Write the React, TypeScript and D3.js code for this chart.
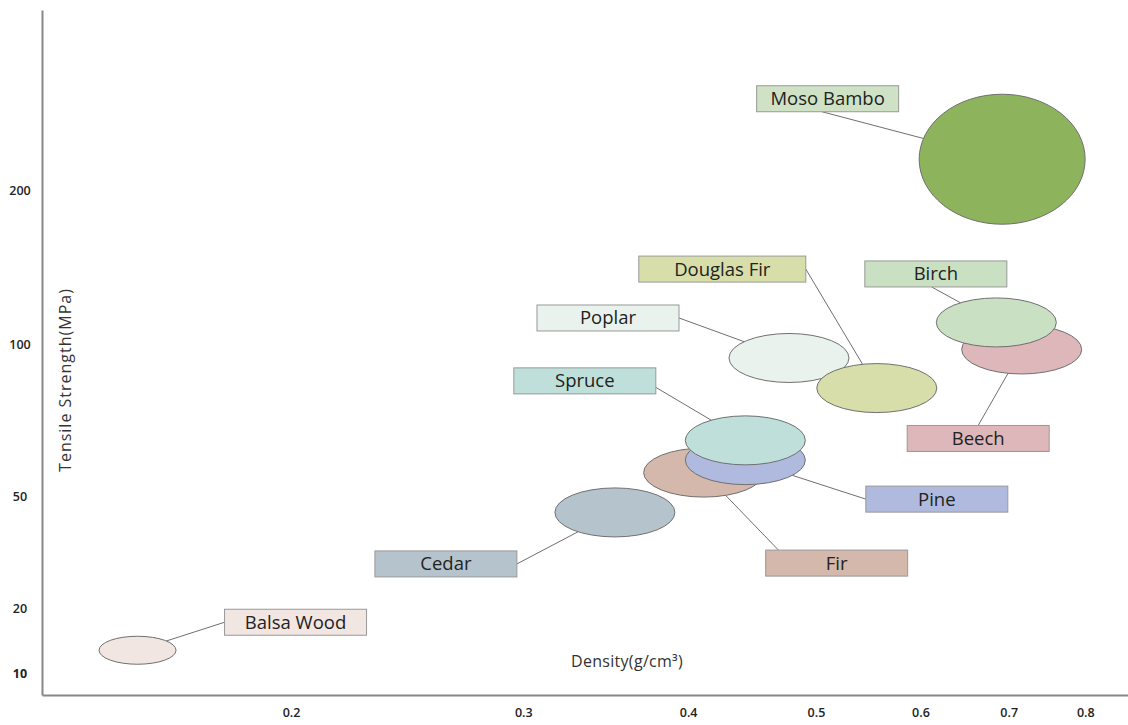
import React, { useRef, useEffect } from 'react';
import * as d3 from 'd3';

const WIDTH = 1128;
const HEIGHT = 725;

// wood species, density (g/cm3), tensile strength (MPa), relative bubble size
const woods = ['Balsa Wood', 'Cedar', 'Fir', 'Pine', 'Spruce', 'Poplar', 'Douglas Fir', 'Beech', 'Birch', 'Moso Bambo'];
const density = [0.153, 0.352, 0.411, 0.442, 0.442, 0.477, 0.556, 0.716, 0.685, 0.692];
const strength = [13.5, 45.6, 57.7, 61.8, 68.3, 95.4, 85.5, 98.2, 114, 220];
const bubbleSize = [1, 3, 3, 3, 3, 3, 3, 3, 3, 10];

const xTicks = [0.2, 0.3, 0.4, 0.5, 0.6, 0.7, 0.8];
const yTicks = [10, 20, 50, 100, 200];

const fills = ['#f2e6e2', '#b5c4cc', '#d4b8ab', '#b0badf', '#bfe0da', '#e9f2ec', '#d7dea9', '#ddb7b9', '#cae0c3', '#8db35c'];
const boxFills = ['#f2e6e2', '#b5c4cc', '#d4b8ab', '#b0badf', '#bfe0da', '#e9f2ec', '#d7dea9', '#ddb7b9', '#cae0c3', '#cfe2c6'];

// label box: offset of box centre from bubble centre, box width, anchor of leader line (fraction of box)
const labelLayout = [
  { dx: 158, dy: -28, w: 142, ax: 0, ay: 0.5 },
  { dx: -169, dy: 51.5, w: 142, ax: 1, ay: 0.5 },
  { dx: 133, dy: 90.5, w: 142, ax: 0.09, ay: 0 },
  { dx: 191.5, dy: 39, w: 142, ax: 0, ay: 0.5 },
  { dx: -160.5, dy: -59.5, w: 142, ax: 1, ay: 0.75 },
  { dx: -181, dy: -40, w: 142, ax: 1, ay: 0.5 },
  { dx: -154.5, dy: -119, w: 167, ax: 1, ay: 0.5 },
  { dx: -43.5, dy: 89, w: 142, ax: 0.5, ay: 0 },
  { dx: -60.5, dy: -48.5, w: 142, ax: 0.47, ay: 1 },
  { dx: -174.5, dy: -60.5, w: 142, ax: 0.46, ay: 1 },
];

export default function App() {
  const svgRef = useRef(null);

  useEffect(() => {
    const svg = d3.select(svgRef.current);
    svg.selectAll('*').remove();

    const xScale = d3.scaleLog().domain([0.1295, 0.862]).range([42, 1128]);
    const yScale = d3
      .scaleLinear()
      .domain([6.6, 10, 20, 50, 100, 200, 317])
      .range([695, 673, 608, 496, 344, 190, 10]);
    const rxScale = d3.scaleLinear().domain([1, 3, 10]).range([38.5, 60, 83]);
    const ryScale = d3.scaleLinear().domain([1, 3, 10]).range([14, 24.5, 65]);

    const font = "'Open Sans', 'Noto Sans', sans-serif";

    // axes
    const xAxis = d3.axisBottom(xScale).tickValues(xTicks).tickSize(0).tickFormat(d3.format('.1f'));
    const gx = svg.append('g').attr('transform', 'translate(0,695)').call(xAxis);
    gx.select('.domain').attr('stroke', '#888').attr('stroke-width', 2);
    gx.selectAll('text')
      .attr('y', 18)
      .attr('dy', '0.35em')
      .attr('fill', '#222')
      .style('font-family', font)
      .style('font-size', '12.5px')
      .style('font-weight', 600);

    const yAxis = d3.axisLeft(yScale).tickValues(yTicks).tickSize(0).tickFormat(d3.format('d'));
    const gy = svg.append('g').attr('transform', 'translate(42,0)').call(yAxis);
    gy.select('.domain').attr('stroke', '#888').attr('stroke-width', 2);
    gy.selectAll('text')
      .attr('x', -22)
      .attr('text-anchor', 'middle')
      .attr('fill', '#222')
      .style('font-family', font)
      .style('font-size', '12.5px')
      .style('font-weight', (d) => (d === 10 ? 700 : 600));

    // axis titles
    svg
      .append('text')
      .attr('x', 627)
      .attr('y', 667)
      .attr('text-anchor', 'middle')
      .attr('fill', '#333')
      .style('font-family', font)
      .style('font-size', '16px')
      .style('letter-spacing', '0.3px')
      .text('Density(g/cm³)');
    svg
      .append('text')
      .attr('transform', 'translate(71,380) rotate(-90)')
      .attr('text-anchor', 'middle')
      .attr('fill', '#333')
      .style('font-family', font)
      .style('font-size', '16px')
      .style('letter-spacing', '1px')
      .text('Tensile Strength(MPa)');

    const items = woods.map((name, i) => {
      const cx = xScale(density[i]);
      const cy = yScale(strength[i]);
      const rx = rxScale(bubbleSize[i]);
      const ry = ryScale(bubbleSize[i]);
      const lay = labelLayout[i];
      const bx = cx + lay.dx - lay.w / 2;
      const by = cy + lay.dy - 13;
      const axp = bx + lay.ax * lay.w;
      const ayp = by + lay.ay * 26;
      const ddx = axp - cx;
      const ddy = ayp - cy;
      const t = 1 / Math.sqrt((ddx / rx) ** 2 + (ddy / ry) ** 2);
      return { name, i, cx, cy, rx, ry, bx, by, w: lay.w, axp, ayp, ex: cx + ddx * t, ey: cy + ddy * t };
    });

    // leader lines
    svg
      .selectAll('.leader')
      .data(items)
      .join('line')
      .attr('class', 'leader')
      .attr('x1', (d) => d.axp)
      .attr('y1', (d) => d.ayp)
      .attr('x2', (d) => d.ex)
      .attr('y2', (d) => d.ey)
      .attr('stroke', '#6f6f6f')
      .attr('stroke-width', 1);

    // bubbles
    svg
      .selectAll('.bubble')
      .data(items)
      .join('ellipse')
      .attr('class', 'bubble')
      .attr('cx', (d) => d.cx)
      .attr('cy', (d) => d.cy)
      .attr('rx', (d) => d.rx)
      .attr('ry', (d) => d.ry)
      .attr('fill', (d) => fills[d.i])
      .attr('stroke', '#707070')
      .attr('stroke-width', 1);

    // label boxes
    const labels = svg.selectAll('.label').data(items).join('g').attr('class', 'label');
    labels
      .append('rect')
      .attr('x', (d) => d.bx)
      .attr('y', (d) => d.by)
      .attr('width', (d) => d.w)
      .attr('height', 26)
      .attr('fill', (d) => boxFills[d.i])
      .attr('stroke', '#999')
      .attr('stroke-width', 1);
    labels
      .append('text')
      .attr('x', (d) => d.bx + d.w / 2)
      .attr('y', (d) => d.by + 13)
      .attr('dy', '0.35em')
      .attr('text-anchor', 'middle')
      .attr('fill', '#222')
      .style('font-family', font)
      .style('font-size', '18.5px')
      .text((d) => d.name);
  }, []);

  return (
    <svg
      ref={svgRef}
      width={WIDTH}
      height={HEIGHT}
      style={{ position: 'absolute', left: 0, top: 0, background: '#fff' }}
    />
  );
}
